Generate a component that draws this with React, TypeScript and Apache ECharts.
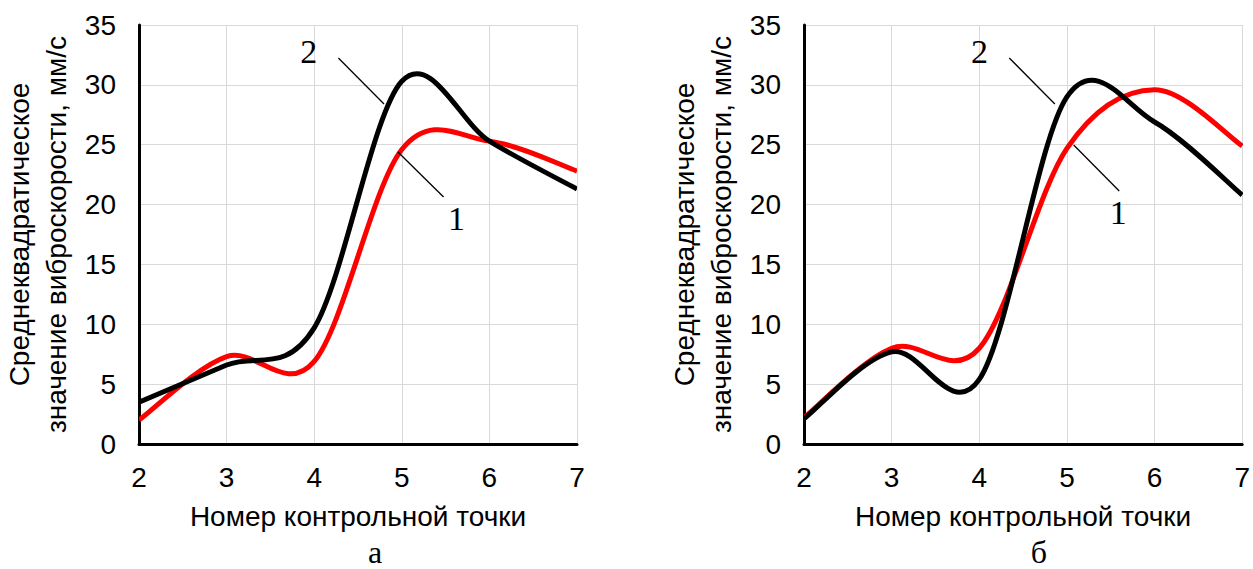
import React, { useEffect, useRef } from "react";
import * as echarts from "echarts";

// control points
const xPoints = [2, 3, 4, 5, 6, 7];
// panel "а"
const leftCurve1 = [2.0, 7.3, 6.9, 24.6, 25.3, 22.8];
const leftCurve2 = [3.5, 6.6, 9.7, 30.3, 25.3, 21.3];
// panel "б"
const rightCurve1 = [2.2, 8.0, 8.0, 24.7, 29.6, 24.9];
const rightCurve2 = [2.1, 7.7, 5.4, 29.0, 26.9, 20.8];

const yTicks = [0, 5, 10, 15, 20, 25, 30, 35];
const xTicks = [2, 3, 4, 5, 6, 7];

const xTitle = "Номер контрольной точки";
const yTitle = "Среднеквадратическое\nзначение виброскорости, мм/с";
const panelLetters = ["а", "б"];

// leader lines for curve numbers (data coords)
const leftLeader2 = [[4.276, 32.25], [4.797, 28.4]];
const leftLeader1 = [[4.956, 24.39], [5.477, 20.63]];
const leftNum2 = [3.937, 32.75];
const leftNum1 = [5.624, 18.8];
const rightLeader2 = [[4.342, 32.25], [4.862, 28.4]];
const rightLeader1 = [[5.077, 24.98], [5.597, 21.14]];
const rightNum2 = [4.002, 32.75];
const rightNum1 = [5.586, 19.3];

const SANS = "Liberation Sans";
const SERIF = "Liberation Serif";

function zip(ys: number[]) {
  return xPoints.map((x, i) => [x, ys[i]]);
}

function makeAxes(gi: number) {
  const xAxis = {
    type: "value",
    gridIndex: gi,
    min: xTicks[0],
    max: xTicks[xTicks.length - 1],
    interval: 1,
    axisLine: { show: true, onZero: false, lineStyle: { color: "#000", width: 3 } },
    axisTick: { show: false },
    axisLabel: { color: "#000", fontFamily: SANS, fontSize: 28, margin: 19 },
    splitLine: { show: true, lineStyle: { color: "#d9d9d9", width: 1 } },
    name: xTitle,
    nameLocation: "middle",
    nameGap: 58,
    nameTextStyle: { color: "#000", fontFamily: SANS, fontSize: 28 },
  };
  const yAxis = {
    type: "value",
    gridIndex: gi,
    min: yTicks[0],
    max: yTicks[yTicks.length - 1],
    interval: 5,
    axisLine: { show: true, onZero: false, lineStyle: { color: "#000", width: 3 } },
    axisTick: { show: false },
    axisLabel: { color: "#000", fontFamily: SANS, fontSize: 28, margin: 23 },
    splitLine: { show: true, lineStyle: { color: "#d9d9d9", width: 1 } },
    name: yTitle,
    nameLocation: "middle",
    nameRotate: 90,
    nameGap: 64,
    nameTextStyle: { color: "#000", fontFamily: SANS, fontSize: 28, lineHeight: 37 },
  };
  return { xAxis, yAxis };
}

// Smooth curve (Catmull-Rom style, like a spreadsheet's smoothed line) through the data,
// placed with the axes' own scales via api.coord.
function curveSeries(gi: number, ys: number[], color: string, z: number) {
  const pts = zip(ys);
  return {
    type: "custom",
    xAxisIndex: gi,
    yAxisIndex: gi,
    data: pts,
    z,
    clip: true,
    silent: true,
    renderItem: (params: any, api: any) => {
      if (params.dataIndex !== 0) return null;
      const p = pts.map((d) => api.coord(d));
      let d = `M${p[0][0]},${p[0][1]}`;
      for (let i = 0; i < p.length - 1; i++) {
        const p0 = p[i - 1] || p[i];
        const p1 = p[i];
        const p2 = p[i + 1];
        const p3 = p[i + 2] || p[i + 1];
        const c1x = p1[0] + (p2[0] - p0[0]) / 6;
        const c1y = p1[1] + (p2[1] - p0[1]) / 6;
        const c2x = p2[0] - (p3[0] - p1[0]) / 6;
        const c2y = p2[1] - (p3[1] - p1[1]) / 6;
        d += ` C${c1x},${c1y} ${c2x},${c2y} ${p2[0]},${p2[1]}`;
      }
      return {
        type: "path",
        shape: { pathData: d },
        style: { fill: "none", stroke: color, lineWidth: 5, lineJoin: "round" },
      };
    },
  };
}

function annotation(gi: number, leader2: number[][], leader1: number[][], num2: number[], num1: number[]) {
  const lbl = { show: true, color: "#000", fontFamily: SERIF, fontSize: 34, position: "inside" };
  return {
    type: "line",
    xAxisIndex: gi,
    yAxisIndex: gi,
    data: [],
    silent: true,
    z: 5,
    markLine: {
      silent: true,
      symbol: "none",
      label: { show: false },
      lineStyle: { color: "#000", width: 1.3, type: "solid" },
      data: [
        [{ coord: leader2[0] }, { coord: leader2[1] }],
        [{ coord: leader1[0] }, { coord: leader1[1] }],
      ],
    },
    markPoint: {
      silent: true,
      symbol: "circle",
      symbolSize: 1,
      itemStyle: { color: "rgba(0,0,0,0)" },
      data: [
        { coord: num2, value: "2", label: { ...lbl, formatter: "2" } },
        { coord: num1, value: "1", label: { ...lbl, formatter: "1" } },
      ],
    },
  };
}

export default function App() {
  const ref = useRef<HTMLDivElement>(null);
  useEffect(() => {
    if (!ref.current) return;
    const chart = echarts.init(ref.current, undefined, { renderer: "svg" });
    const a0 = makeAxes(0);
    const a1 = makeAxes(1);
    chart.setOption({
      animation: false,
      backgroundColor: "#fff",
      grid: [
        { left: 136, top: 25, width: 441, height: 419 },
        { left: 804, top: 25, width: 442, height: 419 },
      ],
      xAxis: [a0.xAxis, a1.xAxis],
      yAxis: [a0.yAxis, a1.yAxis],
      series: [
        curveSeries(0, leftCurve1, "#ff0000", 3),
        curveSeries(0, leftCurve2, "#000000", 4),
        annotation(0, leftLeader2, leftLeader1, leftNum2, leftNum1),
        curveSeries(1, rightCurve1, "#ff0000", 3),
        curveSeries(1, rightCurve2, "#000000", 4),
        annotation(1, rightLeader2, rightLeader1, rightNum2, rightNum1),
      ],
      graphic: [
        {
          type: "text",
          x: 375,
          y: 568,
          style: { text: panelLetters[0], fill: "#000", font: `32px "${SERIF}"`, align: "center", verticalAlign: "bottom" },
        },
        {
          type: "text",
          x: 1039,
          y: 568,
          style: { text: panelLetters[1], fill: "#000", font: `32px "${SERIF}"`, align: "center", verticalAlign: "bottom" },
        },
      ],
    });
    return () => chart.dispose();
  }, []);
  return <div ref={ref} style={{ position: "absolute", left: 0, top: 0, width: 1253, height: 569 }} />;
}
